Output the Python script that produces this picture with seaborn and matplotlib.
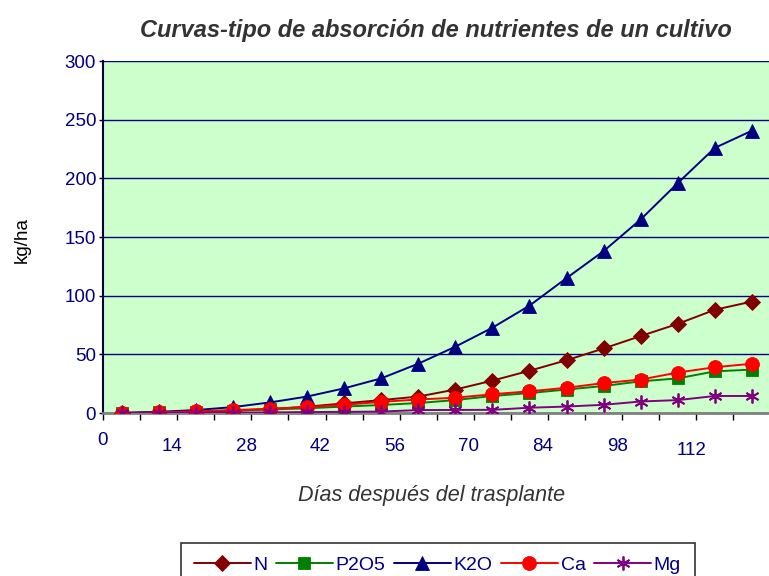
import matplotlib
matplotlib.use("Agg")
import matplotlib.pyplot as plt
import matplotlib.transforms as mtransforms
import seaborn as sns
import pandas as pd
import numpy as np

# ---- data ----
dias = [3.5, 10.5, 17.5, 24.5, 31.5, 38.5, 45.5, 52.5, 59.5, 66.5, 73.5, 80.5,
        87.5, 94.5, 101.5, 108.5, 115.5, 122.5]
N = [0, 0.5, 1.2, 2, 3.4, 5.4, 8.2, 11, 14, 20, 27.6, 36, 45, 55, 65.6, 76, 88, 95]
P2O5 = [0, 0.5, 1.2, 2, 3, 4, 5.5, 6.8, 8.5, 11, 14.5, 17, 20, 23, 27, 29.5, 35.5, 37]
K2O = [0, 1, 2.5, 5, 9, 14, 21, 29.5, 42, 56.5, 72.7, 91.5, 115, 138, 165, 196, 226, 240.6]
Ca = [0, 0.5, 1.5, 2.5, 3.5, 5, 7, 9.5, 11.5, 13, 16, 18.5, 21.5, 25.5, 28.5, 34.5, 39, 42]
Mg = [0, 0.2, 0.3, 0.4, 0.5, 0.8, 1, 1.2, 2.5, 2.6, 2.7, 4.5, 5.5, 7, 9.8, 11, 14.5, 14.5]
series_names = ["N", "P2O5", "K2O", "Ca", "Mg"]
xtick_values = [0, 14, 28, 42, 56, 70, 84, 98, 112]
xtick_labels = ["0", "14", "28", "42", "56", "70", "84", "98", "112"]
yticks = [0, 50, 100, 150, 200, 250, 300]

title = "Curvas-tipo de absorción de nutrientes de un cultivo"
xlabel = "Días después del trasplante"
ylabel = "kg/ha"

colors = {"N": "#800000", "P2O5": "#008000", "K2O": "#000080", "Ca": "#FF0000", "Mg": "#800080"}
markers = {"N": "D", "P2O5": "s", "K2O": "^", "Ca": "o", "Mg": (6, 2, 0)}
msizes = {"N": 8.5, "P2O5": 8.5, "K2O": 10.5, "Ca": 10, "Mg": 10}

df = pd.DataFrame({"dias": dias, "N": N, "P2O5": P2O5, "K2O": K2O, "Ca": Ca, "Mg": Mg})
long = df.melt(id_vars="dias", var_name="serie", value_name="kg")

sns.set_style("white")
plt.rcParams["font.family"] = ["Liberation Sans", "DejaVu Sans"]

fig = plt.figure(figsize=(7.69, 5.76), dpi=100)
ax = fig.add_axes([103 / 769, 1 - 413 / 576, 1 - 103 / 769 + 0.002, (413 - 61) / 576])
ax.set_facecolor("#CCFFCC")

for name in series_names:
    sub = long[long["serie"] == name]
    sns.lineplot(data=sub, x="dias", y="kg", ax=ax, color=colors[name],
                 marker=markers[name], markersize=msizes[name],
                 markeredgecolor=colors[name], markeredgewidth=1.3 if name == "Mg" else 0.6,
                 linewidth=1.4, label=name, legend=False, zorder=3)

px_per_day = 37.4 / 7
ax.set_xlim(0, (769 - 103) / px_per_day + 0.3)
ax.set_ylim(0, 300)

# y axis
ax.set_yticks(yticks)
ax.set_yticklabels([str(v) for v in yticks], color="#000080", fontsize=13.5)
ax.yaxis.grid(True, color="#000080", linewidth=1.0)
ax.set_axisbelow(True)
ax.tick_params(axis="y", direction="out", length=3, width=1, color="#000000", pad=2, left=True)

# x axis
ax.set_xticks(xtick_values)
ax.set_xticklabels(xtick_labels, color="#000080", fontsize=13.5)
ax.set_xticks(np.arange(0, 127, 7), minor=True)
ax.tick_params(axis="x", which="major", direction="out", length=5, width=1, color="#000000",
               bottom=True, pad=13)
ax.tick_params(axis="x", which="minor", direction="out", length=5, width=1, color="#000000", bottom=True)
for i, lab in enumerate(ax.get_xticklabels()):
    dy = 0
    dx = -5 if i > 0 else 0
    if i == 0:
        dy = 6
    if i == len(xtick_labels) - 1:
        dy = -4
    lab.set_transform(lab.get_transform() + mtransforms.ScaledTranslation(dx / 100, dy / 100, fig.dpi_scale_trans))

for s in ["top", "right"]:
    ax.spines[s].set_visible(False)
ax.spines["left"].set_color("#000040")
ax.spines["left"].set_linewidth(1.5)
ax.spines["bottom"].set_color("#808080")
ax.spines["bottom"].set_linewidth(2)
ax.axhline(300, color="#000080", linewidth=1.2, zorder=1)

ax.set_xlabel("")
ax.set_ylabel("")
fig.text(22 / 769, 1 - 240 / 576, ylabel, rotation=90, ha="center", va="center", fontsize=13.5, color="#000000")
fig.text(432 / 769, 1 - 495 / 576, xlabel, ha="center", va="center", fontsize=15.5, style="italic", color="#333333")
fig.text(436 / 769, 1 - 30 / 576, title, ha="center", va="center", fontsize=17, style="italic",
         fontweight="bold", color="#333333")

handles, labels = ax.get_legend_handles_labels()
leg = fig.legend(handles, labels, loc="upper center", bbox_to_anchor=(437.5 / 769, 1 - 543 / 576),
                 ncol=5, frameon=True, fancybox=False, fontsize=14, handlelength=2.9,
                 columnspacing=0.45, handletextpad=0.15, borderpad=0.7, borderaxespad=0,
                 labelcolor="#000080")
leg.get_frame().set_edgecolor("#000000")
leg.get_frame().set_linewidth(1.2)

fig.savefig("out.png", dpi=100)
